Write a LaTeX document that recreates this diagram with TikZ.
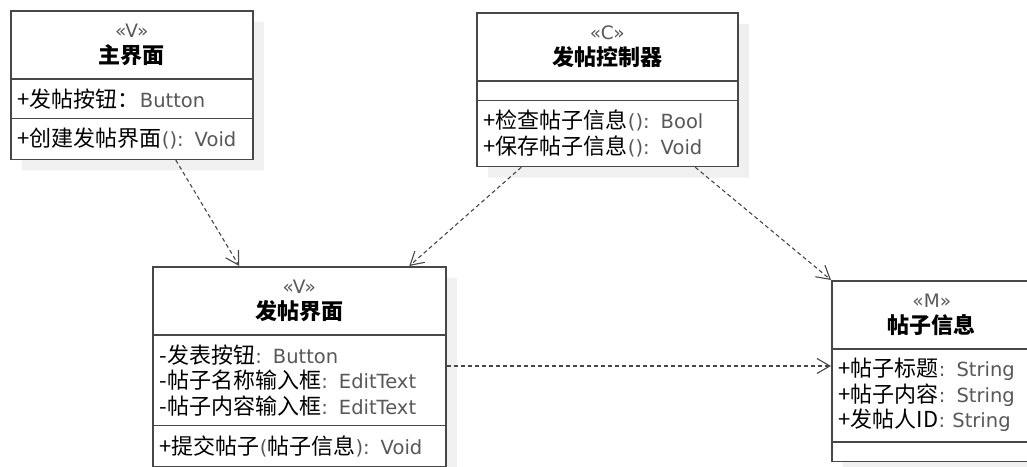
\documentclass[tikz,border=0pt]{standalone}
\usepackage{fontspec}
\setmainfont{Noto Sans CJK SC}
\newfontfamily\latinfont{DejaVu Sans}
\usetikzlibrary{shapes.multipart,shadows,arrows.meta}

\definecolor{classline}{HTML}{474747}
\definecolor{typegray}{HTML}{585858}
\definecolor{shadowgray}{HTML}{F0F0F0}

\newcommand\tp[1]{{\latinfont\fontsize{19.5}{25.5}\selectfont\color{typegray}#1}}
\newcommand\stereo[1]{{\latinfont\fontsize{18.5}{25.5}\selectfont\color{typegray}«#1»}}
\newcommand\classhead[2]{\centering\rule{0pt}{17pt}\stereo{#1}\\\textbf{#2}\rule[-6pt]{0pt}{0pt}\par}

\tikzset{
  class/.style={rectangle split, rectangle split parts=3, draw=classline,
    line width=1.5pt, fill=white, inner xsep=7pt, inner ysep=9pt,
    align=left, anchor=north west,
    general shadow={fill=shadowgray, shadow xshift=11pt, shadow yshift=-11pt},
    font=\fontsize{22}{25.5}\selectfont},
  dep/.style={draw=classline, line width=1.1pt, dash pattern=on 4pt off 3pt,
    -{Straight Barb[length=13pt,width=15pt]}}
}

\begin{document}
\begin{tikzpicture}[x=1pt, y=-1pt]
  \useasboundingbox (0,0) rectangle (1027,466);

  \node[class, text width=228pt] (main) at (10,10) {\classhead{V}{主界面}
    \nodepart{two}+发帖按钮：\tp{Button}
    \nodepart{three}+创建发帖界面\tp{(): Void}};
  \node[class, text width=247pt] (ctrl) at (476,12) {\classhead{C}{发帖控制器}
    \nodepart{two}
    \nodepart{three}+检查帖子信息\tp{(): Bool}\\+保存帖子信息\tp{(): Void}};
  \node[class, text width=279pt] (form) at (152,266) {\classhead{V}{发帖界面}
    \nodepart{two}-发表按钮\tp{: Button}\\-帖子名称输入框\tp{: EditText}\\-帖子内容输入框\tp{: EditText}
    \nodepart{three}+提交帖子\tp{(}帖子信息\tp{): Void}};
  \node[class, text width=186pt] (model) at (831,280) {\classhead{M}{帖子信息}
    \nodepart{two}+帖子标题\tp{: String}\\+帖子内容\tp{: String}\\+发帖人ID\tp{: String}
    \nodepart{three}};

  \path ([xshift=44pt]main.south) edge[dep] ([xshift=-60pt]form.north);
  \path ([xshift=-86pt]ctrl.south) edge[dep] ([xshift=110pt]form.north);
  \path ([xshift=88pt]ctrl.south) edge[dep] (model.north west);
  \path ([yshift=-100pt]form.north east) edge[dep] ([yshift=-86pt]model.north west);
\end{tikzpicture}
\end{document}
